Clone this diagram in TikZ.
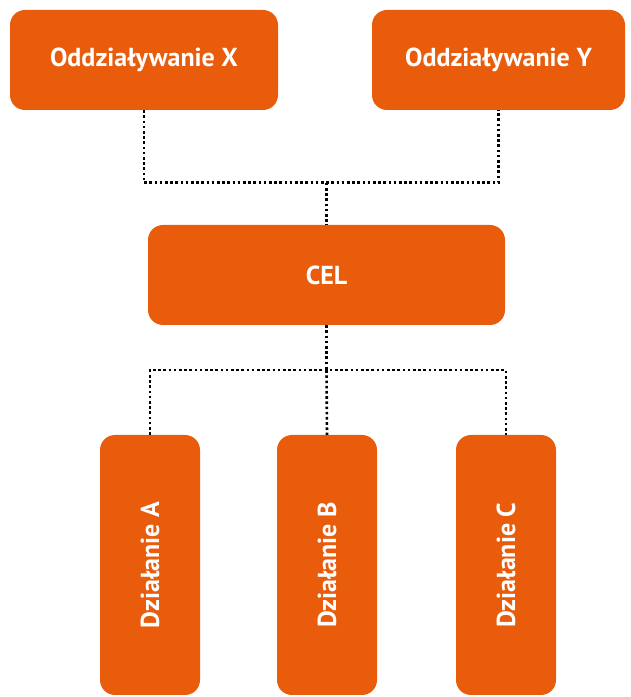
\documentclass[tikz,border=0pt]{standalone}
\usepackage{fontspec}
\setmainfont{PT Sans}
\usepackage{tikz}
\usetikzlibrary{calc, positioning}
\usepackage{xcolor}
\definecolor{celorange}{RGB}{232,92,12}

\begin{document}
\begin{tikzpicture}[x=1pt, y=1pt,
    block/.style={fill=celorange, rounded corners=15pt, text=white, font=\bfseries\fontsize{26}{30}\selectfont, inner sep=0pt},
    link/.style={line width=2.6pt, dash pattern=on 2.6pt off 2.6pt}]
    \useasboundingbox (0,0) rectangle (630,697);

    % oddziaływania
    \node[block, minimum width=268, minimum height=100] (ox) at (144,637) {Oddziaływanie X};
    \node[block, minimum width=253, minimum height=100] (oy) at (498.5,637) {Oddziaływanie Y};

    % cel
    \node[block, minimum width=357, minimum height=100] (cel) at (326.5,422) {CEL};

    % działania
    \node[block, rotate=90, minimum width=260, minimum height=100] (da) at (150,132) {Działanie A};
    \node[block, rotate=90, minimum width=260, minimum height=100] (db) at (327,132) {Działanie B};
    \node[block, rotate=90, minimum width=260, minimum height=100] (dc) at (506,132) {Działanie C};

    % punkty rozgałęzienia
    \path (cel.north) ++(0,42) coordinate (jtop);
    \path (cel.south) ++(0,-45) coordinate (jbot);

    % połączenia
    \draw[link] (ox.south) |- (jtop) -| (oy.south);
    \draw[link] (jtop) -- (cel.north);
    \draw[link] (cel.south) -- (jbot);
    \draw[link] (da.east) |- (jbot) -| (dc.east);
    \draw[link] (jbot) -- (db.east);
\end{tikzpicture}
\end{document}
